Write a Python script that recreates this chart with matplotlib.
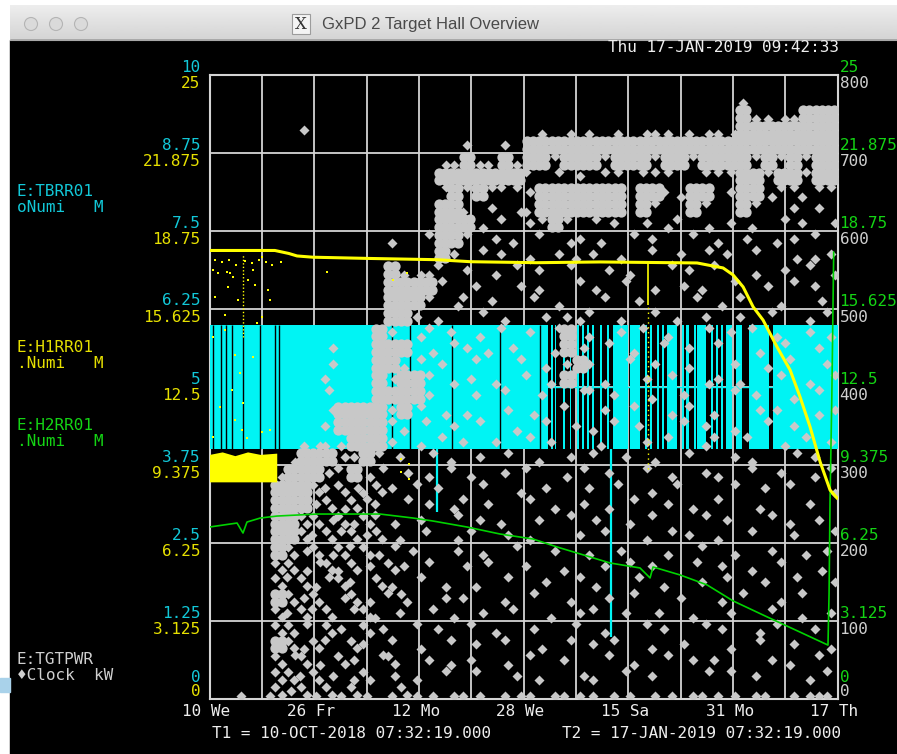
"""Recreates the GxPD 2 Target Hall Overview screenshot.
Four channels share one time window, each one on its own vertical scale,
and the X11 window chrome is drawn around the plot."""

import numpy as np
import matplotlib
matplotlib.use("Agg")
import matplotlib.pyplot as plt
from matplotlib.patches import Rectangle, Circle

W, H = 897, 754
MONO = ["DejaVu Sans Mono", "DejaVu Sans"]
FS = 11.5

CYAN, CYAN_TXT = "#00f4f4", "#12c8d8"
YEL, YEL_TXT = "#ffff00", "#e6e000"
GRN, GRN_TXT = "#00d200", "#14d414"
GREY, GREY_TXT = "#c8c8c8", "#cfcfcf"
WHITE_TXT = "#eeeeee"
GRID = "#d4d4d4"

# ---------------- scales ----------------
T_DAYS = 99.0          # T1 = 10-OCT-2018 07:32, T2 = 17-JAN-2019 07:32
date_tick_days = [0, 16.5, 33, 49.5, 66, 82.5, 99]
date_tick_labels = ["10 We", "26 Fr", "12 Mo", "28 We", "15 Sa", "31 Mo", "17 Th"]

tbrr_ticks = [0, 1.25, 2.5, 3.75, 5, 6.25, 7.5, 8.75, 10]
tbrr_labels = ["0", "1.25", "2.5", "3.75", "5", "6.25", "7.5", "8.75", "10"]
rr25_ticks = [0, 3.125, 6.25, 9.375, 12.5, 15.625, 18.75, 21.875, 25]
rr25_labels = ["0", "3.125", "6.25", "9.375", "12.5", "15.625", "18.75",
               "21.875", "25"]
pwr_ticks = [0, 100, 200, 300, 400, 500, 600, 700, 800]
pwr_labels = ["0", "100", "200", "300", "400", "500", "600", "700", "800"]

# ---------------- E:TBRR01 (cyan, 0..10) ----------------
# spans (start day, width) where the rate toggles between 4 and 6
tbrr_spans = [(0, 53.3), (53.84, 0.3), (54.47, 0.23), (55.73, 0.24),
              (56.76, 0.24), (57.97, 0.23), (58.76, 0.24), (59.55, 0.25),
              (60.34, 0.23), (61.56, 0.24), (62.67, 0.23), (63.62, 2.36),
              (66.3, 1.57), (68.66, 0.24), (69.45, 0.25), (70.55, 0.24),
              (71.34, 0.24), (72.13, 1.57), (74.49, 0.24), (75.12, 0.48),
              (76.4, 0.24), (76.87, 1.42), (79.08, 0.22), (79.87, 0.23),
              (80.66, 0.24), (81.45, 0.95), (83.03, 0.95), (85.1, 3.16),
              (88.76, 10.24)]
tbrr_low, tbrr_high = 4.0, 6.0
tbrr_gap_days = [0.55, 1.81, 2.6, 3.55, 5.28, 7.96, 10.32, 10.96, 26.88,
                 28.77, 31.6, 38.23, 45.8, 52.1]
tbrr_drop_days = [35.9, 63.3]
tbrr_drop_vals = [3.0, 1.0]

# ---------------- E:H1RR01 (yellow, 0..25) ----------------
h1_days = [0, 10.3, 12.5, 13.8, 16.3, 25.3, 35.9, 41.1, 51.6, 61.56, 76.86,
           80.96, 82.54, 84.12, 85.7, 87.27, 89.48, 91.53, 93.1, 94.68,
           96.26, 97.83, 98.94]
h1_vals = [17.97, 17.97, 17.85, 17.75, 17.7, 17.65, 17.6, 17.52, 17.48,
           17.51, 17.47, 17.27, 16.99, 16.51, 15.71, 15.18, 14.1, 13.18,
           12.1, 10.9, 9.5, 8.37, 8.05]
h1_block_days = [0, 2, 4, 6, 8, 10.6]
h1_block_low = [8.7, 8.7, 8.7, 8.7, 8.7, 8.7]
h1_block_high = [9.8, 9.9, 9.75, 9.9, 9.8, 9.85]
h1_dot_days = [0.55, 1.34, 2.76, 3.23, 3.7, 2.92, 6.07, 6.86, 7.17, 8.28,
               9.22, 9.54, 0.87, 4.49, 2.44, 8.28, 0.55, 4.02, 6.86, 4.81,
               3.55, 5.28, 4.02, 5.12, 5.91, 8.28, 9.54, 1.66, 0.55, 7.49,
               2.44, 30.2, 30.2, 31.4, 31.4, 28.9, 31.1, 18.5,
               0.8, 1.9, 3.1, 4.2, 5.6, 6.7, 7.8, 8.9, 9.9, 11.3]
h1_dot_vals = [17.19, 17.07, 17.11, 17.07, 16.91, 16.51, 16.79, 17.19, 16.59,
               17.71, 16.39, 15.99, 16.11, 15.99, 15.38, 15.3, 14.5, 13.78,
               13.7, 13.06, 12.38, 11.86, 11.18, 10.78, 10.46, 10.7, 10.78,
               11.7, 10.5, 15.06, 14.78, 9.6, 9.1, 9.4, 8.8, 16.8, 17.07,
               17.1,
               17.6, 17.5, 17.6, 17.4, 17.55, 17.45, 17.6, 17.5, 17.4, 17.5]

# ---------------- E:H2RR01 (green, 0..25) ----------------
h2_days = [0, 4.34, 5.28, 5.91, 8.0, 10.64, 16.95, 21.05, 26.88, 32.1, 35.25,
           40.6, 45.8, 51.0, 54.8, 63.14, 67.87, 69.45, 69.92, 74.18, 78.44,
           82.54, 87.9, 93.1, 97.5, 97.67, 97.83, 98.1, 98.4]
h2_vals = [6.89, 7.05, 6.65, 7.09, 7.25, 7.33, 7.41, 7.41, 7.41, 7.25, 7.13,
           6.89, 6.61, 6.41, 6.09, 5.45, 5.25, 4.85, 5.29, 4.97, 4.57, 3.93,
           3.29, 2.68, 2.16, 4.21, 8.09, 12.0, 17.9]

# ---------------- E:TGTPWR (grey, 0..800 kW) ----------------
# sample map, 50 columns of 1.98 days by 40 rows of 20 kW (top row = 800 kW)
# ' ' none, '1'-'9' one sample (keypad position in the cell), ':' two, '#' full
pwr_map = [
    "          " "          " "          " "          " "          ",
    "          " "          " "          " "          " "  2       ",
    "          " "          " "          " "          " "  #2232###",
    "       5  " "          " "      2 3 " "1 2 322 13" "23########",
    "          " "          " "5  5 #####" "##########" "##########",
    "          " "        32" "#21#2##8##" "#8###8##8#" "###8#8#8##",
    "          " "        ##" "#####7 9 5" " 88 888  8" "88##8##8##",
    "          " "        9#" "8#8785####" "### ##42##" " 5##388188",
    "          " "        ##" "1 5 31####" "### #8  #8" "  #8  5 5 ",
    "          " "        ##" "#3 7 58#8 " "9 4 6 27 3" " 5 1 9 4 6",
    "          " "    2  8##" "8 6 1 7 35" " 1 9 4  8 " "2 6  15 7 ",
    "          " "        #5" " 9 4 2 6 1" "5 3  7 5 9" " 4 8  3 15",
    "          " "    #2327 " "5 3 8 4 9 " " 6 2  9 4 " "7  2 6 9 3",
    "          " "    ####8 " " 4  6 1  8" "3  7 2 6 1" " 9  5 8 4 ",
    "          " "    ###8 3" "7 5  9 3  " " 8  4   9 " "3 7  2  6 ",
    "          " "    ##5 1 " " 9 2  6 52" "7 3  8 1 5" "  4 9  3 7",
    "          " "   #5 38 4" " 2 7 5 9# " "1 6 8 2  9" " 5 7 1 6 2",
    "         6" "   ### 3 8" "5 1 4  2#6" " 9 3  7 4 " "8  3 9  5 ",
    "         6" "   ##29 5 " " 7  9 3 5#" "4  8 5  1 " " 6  2 7  4",
    "         4" "   #6##8 2" "6 3  7 1# " " 2  6 9  3" "5 1  8 3 9",
    "         8" "   ####5  " " 4 8  5  9" "7 4  1 6  " " 9 5  2 8 ",
    "         6" "####5#9 3 " "2  6 3  7 " " 5 9  3 7 " "1  6 4  26",
    "         4" "####82 7 5" " 8  2 9  4" "2 7 4  9 5" " 3  8 5   ",
    "       231" "2###5 3 8 " "4 6  8 4  " " 1  6 8  2" "7 9  3 8 5",
    "      3###" "65#8 4 9 1" " 5 9  1 6 " "8  4 2  7 " " 6 1  9 4 ",
    "     3###5" "7#39 6 2 7" "3  5 7  29" " 6  9 3  5" "2  7 5  18",
    "     ###:4" ":61:5 8 4 " " 9  3 6   " "4 8  1 7  " " 9  4 7  3",
    "     ###5:" "3:84 9 5 2" "7 4  8 2 6" " 3 9  5 2 " "8  3   6  ",
    "     ##::6" ":2:73 6  9" " 5 1  4 9 " "6  2 7   8" " 4  9 1 5 ",
    "     ##:4:" "8:5: 1 7 3" "9  6 2   5" " 8  3 9 4 " "2  7  5  9",
    "     #:6:3" ":7:29 4  6" " 3  8  5  " "1 6   2  7" " 3  6  2 4",
    "     ::39:" "1:6 :5 8  " "5 7  4  1 " " 5 8 4  9 " "6  1 8  3 ",
    "     :7:28" ":4 :2 9 3 " " 1 9  6  8" "3   7 1  4" " 7  4 9  6",
    "     #:5: " "6:3 7:  6 " "4  2 9  3 " " 6 9   5  " "3 8  2 7  ",
    "     :4:7:" " 8:1 4 9 2" " 6  7  1 5" "8  4 6  2 " " 5  9  1 5",
    "     ::9 :" "5 :6  8 4 " "9 3  6   7" " 2  9 4  8" "6  3 7  4 ",
    "     #:2:7" " :4 8 3  7" " 4 8  2 9 " "5 7  1 6  " " 2 9  5  2",
    "     :9:3 " ":5 9:  5 1" "6  3 8  4 " " 9 3  8 5 " "4   6 1 8 ",
    "     ::4:6" " 2: 6 2 9 " " 7  5 1  6" "2  7 4   9" " 8 5   3 7",
    "  2 3:5:2:" "2:2 2:23 2" "12 232 212" "2 12 23 21" "23 21 2321",
]
pwr_cell_days = T_DAYS / 50
pwr_cell_kw = 20.0
pwr_top_kw = 800.0


def decode_power_map(rows, cell_days, cell_kw, top_kw):
    """Turns the character map of E:TGTPWR samples into day / kW arrays.
    Returns the sparse samples and the saturated ('#') cells apart."""
    spots = {":": [(-0.25, 0.25), (0.25, -0.25)],
             "#": [(-0.25, -0.25), (0.25, -0.25), (-0.25, 0.25), (0.25, 0.25)]}
    for k in range(1, 10):
        spots[str(k)] = [(((k - 1) % 3 - 1) * 0.3, ((k - 1) // 3 - 1) * 0.3)]
    sparse, dense = ([], []), ([], [])
    for r, row in enumerate(rows):
        for c, ch in enumerate(row.ljust(50)[:50]):
            dest = dense if ch == "#" else sparse
            for fx, fy in spots.get(ch, []):
                dest[0].append((c + 0.5 + fx) * cell_days)
                dest[1].append(top_kw - (r + 0.5 - fy) * cell_kw)
    return sparse, dense


def scale_labels(ax, ticks, labels, color, side, dy, dy_zero):
    """Writes one column of scale numbers next to the plot frame."""
    x, ha, dx = (0, "right", -9) if side == "left" else (1, "left", 2)
    for v, lab in zip(ticks, labels):
        ax.annotate(lab, xy=(x, v), xycoords=ax.get_yaxis_transform(),
                    xytext=(dx, dy_zero if v == 0 else dy),
                    textcoords="offset pixels", ha=ha, va="center",
                    color=color, family=MONO, fontsize=FS)


def overlay_axes(fig, rect, ylim):
    """Transparent axes on top of the base one, sharing the time window."""
    ax = fig.add_axes(rect)
    ax.set_xlim(0, T_DAYS)
    ax.set_ylim(*ylim)
    ax.patch.set_visible(False)
    ax.axis("off")
    return ax


fig = plt.figure(figsize=(W / 100, H / 100), dpi=100, facecolor="white")

# window chrome, drawn in pixel coordinates
chrome = fig.add_axes([0, 0, 1, 1])
chrome.set_xlim(0, W)
chrome.set_ylim(H, 0)
chrome.axis("off")
chrome.add_patch(Rectangle((10, 40), W - 10, H - 40, color="black"))
grad = np.linspace(0.93, 0.83, 40).reshape(-1, 1)
chrome.imshow(grad, cmap="gray", vmin=0, vmax=1, aspect="auto",
              extent=(10, W, 40, 5))
chrome.plot([10, W], [40, 40], color="#a8a8a8", lw=0.8)
for cx in (31, 56, 81):
    chrome.add_patch(Circle((cx, 24), 6.5, facecolor="#dadada",
                            edgecolor="#b4b4b4", lw=0.8))
chrome.add_patch(Rectangle((292, 14), 18, 20, facecolor="#f4f4f4",
                           edgecolor="#9c9c9c", lw=0.8))
chrome.text(301, 24.5, "X", ha="center", va="center", fontsize=12,
            family="DejaVu Serif", color="#333333")
chrome.text(322, 24, "GxPD 2 Target Hall Overview", ha="left", va="center",
            fontsize=12, family="Liberation Sans", color="#4a4a4a")
chrome.add_patch(Rectangle((0, 678), 10, 14, color="#a9d2ea"))

chrome.text(839, 48, "Thu 17-JAN-2019 09:42:33", ha="right", va="center",
            family=MONO, fontsize=FS, color=WHITE_TXT)
chrome.text(212, 733, "T1 = 10-OCT-2018 07:32:19.000", ha="left",
            va="center", family=MONO, fontsize=FS, color=WHITE_TXT)
chrome.text(562, 733, "T2 = 17-JAN-2019 07:32:19.000", ha="left",
            va="center", family=MONO, fontsize=FS, color=WHITE_TXT)
legend_rows = [("E:TBRR01", 191, CYAN_TXT), ("oNumi   M", 207, CYAN_TXT),
               ("E:H1RR01", 348, YEL_TXT), (".Numi   M", 364, YEL_TXT),
               ("E:H2RR01", 426, GRN_TXT), (".Numi   M", 442, GRN_TXT),
               ("E:TGTPWR", 660, GREY_TXT), ("\u2666Clock  kW", 676, GREY_TXT)]
for txt, y, col in legend_rows:
    chrome.text(17, y, txt, ha="left", va="center", family=MONO,
                fontsize=FS, color=col)

# plot frame
rect = [209.5 / W, (H - 699) / H, 628 / W, 624 / H]
base = fig.add_axes(rect, facecolor="black")
base.set_xlim(0, T_DAYS)
base.set_ylim(0, 800)
base.set_xticks(np.arange(0, T_DAYS + 0.1, T_DAYS / 12))
base.set_yticks(pwr_ticks)
base.tick_params(length=0, labelbottom=False, labelleft=False)
base.grid(True, color=GRID, lw=1.3)
for sp in base.spines.values():
    sp.set_color(GRID)
    sp.set_linewidth(1.5)
for d, lab in zip(date_tick_days, date_tick_labels):
    base.annotate(lab, xy=(d, 0), xycoords=base.get_xaxis_transform(),
                  xytext=(-3, -12), textcoords="offset pixels", ha="center",
                  va="center", family=MONO, fontsize=FS, color=WHITE_TXT)

# E:TBRR01
ax_c = overlay_axes(fig, rect, (0, 10))
ax_c.broken_barh(tbrr_spans, (tbrr_low, tbrr_high - tbrr_low),
                 facecolors=CYAN, linewidth=0)
ax_c.vlines(tbrr_gap_days, tbrr_low, tbrr_high, colors="black", lw=1.0)
ax_c.hlines(5.0, 53.3, 88.76, colors=CYAN, lw=1.0)
ax_c.vlines(tbrr_drop_days, tbrr_drop_vals, tbrr_low, colors=CYAN, lw=1.6)

# E:TGTPWR
ax_k = overlay_axes(fig, rect, (0, 800))
(sp_days, sp_kw), (dn_days, dn_kw) = decode_power_map(
    pwr_map, pwr_cell_days, pwr_cell_kw, pwr_top_kw)
ax_k.scatter(dn_days, dn_kw, s=55, marker="o", c=GREY, linewidths=0)
ax_k.scatter(sp_days, sp_kw, s=26, marker="D", c=GREY, linewidths=0)

# E:H2RR01
ax_g = overlay_axes(fig, rect, (0, 25))
ax_g.plot(h2_days, h2_vals, color=GRN, lw=1.2)

# E:H1RR01
ax_y = overlay_axes(fig, rect, (0, 25))
ax_y.fill_between(h1_block_days, h1_block_low, h1_block_high, color=YEL,
                  linewidth=0)
ax_y.scatter(h1_dot_days, h1_dot_vals, s=3, marker="s", c=YEL, linewidths=0)
ax_y.vlines(5.3, 14.5, 17.8, colors=YEL, lw=1.0, linestyles=(0, (1, 1.5)))
ax_y.vlines(69.1, 15.8, 17.5, colors=YEL, lw=1.2)
ax_y.vlines(69.1, 9.2, 15.8, colors=YEL, lw=1.0, linestyles=(0, (1, 2.5)))
ax_y.plot(h1_days, h1_vals, color=YEL, lw=2.2)

# scale numbers on both sides
scale_labels(ax_c, tbrr_ticks, tbrr_labels, CYAN_TXT, "left", 8, 22)
scale_labels(ax_y, rr25_ticks, rr25_labels, YEL_TXT, "left", -8, 7)
scale_labels(ax_g, rr25_ticks, rr25_labels, GRN_TXT, "right", 8, 22)
scale_labels(ax_k, pwr_ticks, pwr_labels, GREY_TXT, "right", -8, 7)

fig.savefig("out.png", dpi=100, facecolor=fig.get_facecolor())
